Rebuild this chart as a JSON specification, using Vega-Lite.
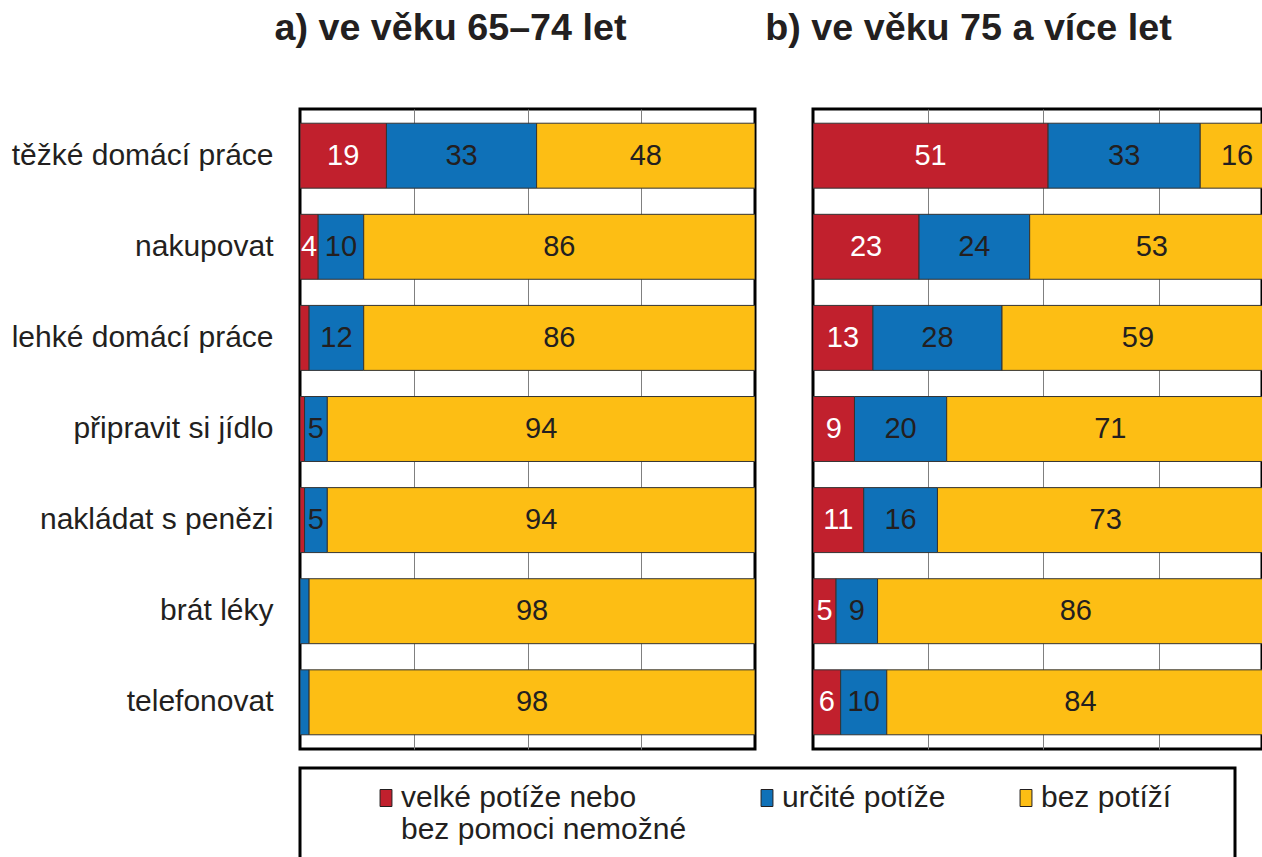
{
  "$schema": "https://vega.github.io/schema/vega-lite/v6.json",
  "padding": {"left": 9, "top": 8, "right": 0, "bottom": 0},
  "config": {
    "font": "Liberation Sans",
    "view": {"stroke": "#000000", "strokeWidth": 3}
  },
  "datasets": {
    "bars": [
      {"panel": "a", "activity": "těžké domácí práce", "cat": "velké potíže nebo bez pomoci nemožné", "o": 1, "value": 19},
      {"panel": "a", "activity": "těžké domácí práce", "cat": "určité potíže", "o": 2, "value": 33},
      {"panel": "a", "activity": "těžké domácí práce", "cat": "bez potíží", "o": 3, "value": 48},
      {"panel": "a", "activity": "nakupovat", "cat": "velké potíže nebo bez pomoci nemožné", "o": 1, "value": 4},
      {"panel": "a", "activity": "nakupovat", "cat": "určité potíže", "o": 2, "value": 10},
      {"panel": "a", "activity": "nakupovat", "cat": "bez potíží", "o": 3, "value": 86},
      {"panel": "a", "activity": "lehké domácí práce", "cat": "velké potíže nebo bez pomoci nemožné", "o": 1, "value": 2},
      {"panel": "a", "activity": "lehké domácí práce", "cat": "určité potíže", "o": 2, "value": 12},
      {"panel": "a", "activity": "lehké domácí práce", "cat": "bez potíží", "o": 3, "value": 86},
      {"panel": "a", "activity": "připravit si jídlo", "cat": "velké potíže nebo bez pomoci nemožné", "o": 1, "value": 1},
      {"panel": "a", "activity": "připravit si jídlo", "cat": "určité potíže", "o": 2, "value": 5},
      {"panel": "a", "activity": "připravit si jídlo", "cat": "bez potíží", "o": 3, "value": 94},
      {"panel": "a", "activity": "nakládat s penězi", "cat": "velké potíže nebo bez pomoci nemožné", "o": 1, "value": 1},
      {"panel": "a", "activity": "nakládat s penězi", "cat": "určité potíže", "o": 2, "value": 5},
      {"panel": "a", "activity": "nakládat s penězi", "cat": "bez potíží", "o": 3, "value": 94},
      {"panel": "a", "activity": "brát léky", "cat": "velké potíže nebo bez pomoci nemožné", "o": 1, "value": 0},
      {"panel": "a", "activity": "brát léky", "cat": "určité potíže", "o": 2, "value": 2},
      {"panel": "a", "activity": "brát léky", "cat": "bez potíží", "o": 3, "value": 98},
      {"panel": "a", "activity": "telefonovat", "cat": "velké potíže nebo bez pomoci nemožné", "o": 1, "value": 0},
      {"panel": "a", "activity": "telefonovat", "cat": "určité potíže", "o": 2, "value": 2},
      {"panel": "a", "activity": "telefonovat", "cat": "bez potíží", "o": 3, "value": 98},
      {"panel": "b", "activity": "těžké domácí práce", "cat": "velké potíže nebo bez pomoci nemožné", "o": 1, "value": 51},
      {"panel": "b", "activity": "těžké domácí práce", "cat": "určité potíže", "o": 2, "value": 33},
      {"panel": "b", "activity": "těžké domácí práce", "cat": "bez potíží", "o": 3, "value": 16},
      {"panel": "b", "activity": "nakupovat", "cat": "velké potíže nebo bez pomoci nemožné", "o": 1, "value": 23},
      {"panel": "b", "activity": "nakupovat", "cat": "určité potíže", "o": 2, "value": 24},
      {"panel": "b", "activity": "nakupovat", "cat": "bez potíží", "o": 3, "value": 53},
      {"panel": "b", "activity": "lehké domácí práce", "cat": "velké potíže nebo bez pomoci nemožné", "o": 1, "value": 13},
      {"panel": "b", "activity": "lehké domácí práce", "cat": "určité potíže", "o": 2, "value": 28},
      {"panel": "b", "activity": "lehké domácí práce", "cat": "bez potíží", "o": 3, "value": 59},
      {"panel": "b", "activity": "připravit si jídlo", "cat": "velké potíže nebo bez pomoci nemožné", "o": 1, "value": 9},
      {"panel": "b", "activity": "připravit si jídlo", "cat": "určité potíže", "o": 2, "value": 20},
      {"panel": "b", "activity": "připravit si jídlo", "cat": "bez potíží", "o": 3, "value": 71},
      {"panel": "b", "activity": "nakládat s penězi", "cat": "velké potíže nebo bez pomoci nemožné", "o": 1, "value": 11},
      {"panel": "b", "activity": "nakládat s penězi", "cat": "určité potíže", "o": 2, "value": 16},
      {"panel": "b", "activity": "nakládat s penězi", "cat": "bez potíží", "o": 3, "value": 73},
      {"panel": "b", "activity": "brát léky", "cat": "velké potíže nebo bez pomoci nemožné", "o": 1, "value": 5},
      {"panel": "b", "activity": "brát léky", "cat": "určité potíže", "o": 2, "value": 9},
      {"panel": "b", "activity": "brát léky", "cat": "bez potíží", "o": 3, "value": 86},
      {"panel": "b", "activity": "telefonovat", "cat": "velké potíže nebo bez pomoci nemožné", "o": 1, "value": 6},
      {"panel": "b", "activity": "telefonovat", "cat": "určité potíže", "o": 2, "value": 10},
      {"panel": "b", "activity": "telefonovat", "cat": "bez potíží", "o": 3, "value": 84}
    ],
    "legend": [
      {"cat": "velké potíže nebo bez pomoci nemožné"},
      {"cat": "určité potíže"},
      {"cat": "bez potíží"}
    ]
  },
  "vconcat": [
    {
      "hconcat": [
        {
          "width": 455,
          "height": 640,
          "title": {"text": "a) ve věku 65–74 let", "fontSize": 37.7, "fontWeight": "bold", "color": "#231f20", "anchor": "middle", "dx": -77, "baseline": "alphabetic", "offset": 31},
          "data": {"name": "bars"},
          "transform": [{"filter": "datum.panel == 'a'"}],
          "encoding": {
            "y": {"field": "activity", "type": "nominal", "sort": ["těžké domácí práce", "nakupovat", "lehké domácí práce", "připravit si jídlo", "nakládat s penězi", "brát léky", "telefonovat"], "scale": {"paddingInner": 0.287, "paddingOuter": 0.156}, "axis": {"title": null, "ticks": false, "domain": false, "labelFontSize": 30, "labelColor": "#231f20", "labelPadding": 27, "labelLimit": 400}},
            "x": {"field": "value", "type": "quantitative", "stack": "zero", "scale": {"domain": [0, 100], "nice": false}, "axis": {"title": null, "labels": false, "ticks": false, "domain": false, "grid": true, "values": [25, 50, 75], "gridColor": "#808080", "gridOpacity": 1, "gridWidth": 1, "minExtent": 0, "maxExtent": 0}},
            "order": {"field": "o", "type": "quantitative"}
          },
          "layer": [
            {"mark": {"type": "bar", "stroke": "#333333", "strokeWidth": 1, "clip": true}, "encoding": {"color": {"field": "cat", "type": "nominal", "scale": {"domain": ["velké potíže nebo bez pomoci nemožné", "určité potíže", "bez potíží"], "range": ["#c1202d", "#0f71b8", "#fdbe14"]}, "legend": null}}},
            {"mark": {"type": "text", "fontSize": 29}, "encoding": {"detail": {"field": "cat", "type": "nominal"}, "x": {"field": "value", "type": "quantitative", "stack": "zero", "bandPosition": 0.5}, "text": {"condition": {"test": "datum.value < 3", "value": ""}, "field": "value", "type": "quantitative"}, "color": {"condition": {"test": "datum.o == 1", "value": "#ffffff"}, "value": "#231f20"}}}
          ]
        },
        {
          "width": 449,
          "height": 640,
          "title": {"text": "b) ve věku 75 a více let", "fontSize": 37.7, "fontWeight": "bold", "color": "#231f20", "anchor": "middle", "dx": -69, "baseline": "alphabetic", "offset": 31},
          "data": {"name": "bars"},
          "transform": [{"filter": "datum.panel == 'b'"}],
          "encoding": {
            "y": {"field": "activity", "type": "nominal", "sort": ["těžké domácí práce", "nakupovat", "lehké domácí práce", "připravit si jídlo", "nakládat s penězi", "brát léky", "telefonovat"], "scale": {"paddingInner": 0.287, "paddingOuter": 0.156}, "axis": null},
            "x": {"field": "value", "type": "quantitative", "stack": "zero", "scale": {"domain": [0, 97.4], "nice": false}, "axis": {"title": null, "labels": false, "ticks": false, "domain": false, "grid": true, "values": [25, 50, 75], "gridColor": "#808080", "gridOpacity": 1, "gridWidth": 1, "minExtent": 0, "maxExtent": 0}},
            "order": {"field": "o", "type": "quantitative"}
          },
          "layer": [
            {"mark": {"type": "bar", "stroke": "#333333", "strokeWidth": 1, "clip": true}, "encoding": {"color": {"field": "cat", "type": "nominal", "scale": {"domain": ["velké potíže nebo bez pomoci nemožné", "určité potíže", "bez potíží"], "range": ["#c1202d", "#0f71b8", "#fdbe14"]}, "legend": null}}},
            {"mark": {"type": "text", "fontSize": 29, "clip": true}, "encoding": {"detail": {"field": "cat", "type": "nominal"}, "x": {"field": "value", "type": "quantitative", "stack": "zero", "bandPosition": 0.5}, "text": {"condition": {"test": "datum.value < 3", "value": ""}, "field": "value", "type": "quantitative"}, "color": {"condition": {"test": "datum.o == 1", "value": "#ffffff"}, "value": "#231f20"}}}
          ]
        }
      ],
      "spacing": 6
    },
    {
      "width": 935,
      "height": 91,
      "view": {"stroke": "#000000", "strokeWidth": 3},
      "data": {"name": "legend"},
      "mark": {"type": "square", "opacity": 0},
      "encoding": {
        "color": {"field": "cat", "type": "nominal", "scale": {"domain": ["velké potíže nebo bez pomoci nemožné", "určité potíže", "bez potíží"], "range": ["#c1202d", "#0f71b8", "#fdbe14"]},
          "legend": {"title": null, "orient": "none", "legendX": 71, "legendY": 15, "direction": "horizontal", "columns": 3, "columnPadding": 65, "padding": 0, "symbolType": "M-0.7,-1H0.7V1H-0.7Z", "symbolSize": 289, "symbolOpacity": 1, "symbolStrokeColor": "#231f20", "symbolStrokeWidth": 1, "labelFontSize": 30, "labelColor": "#231f20", "labelOffset": 0, "labelLimit": 500, "labelExpr": "datum.label == 'velké potíže nebo bez pomoci nemožné' ? ['velké potíže nebo', 'bez pomoci nemožné'] : [datum.label, ' ']"}}
      }
    }
  ],
  "spacing": 15,
  "resolve": {"legend": {"color": "independent"}}
}
